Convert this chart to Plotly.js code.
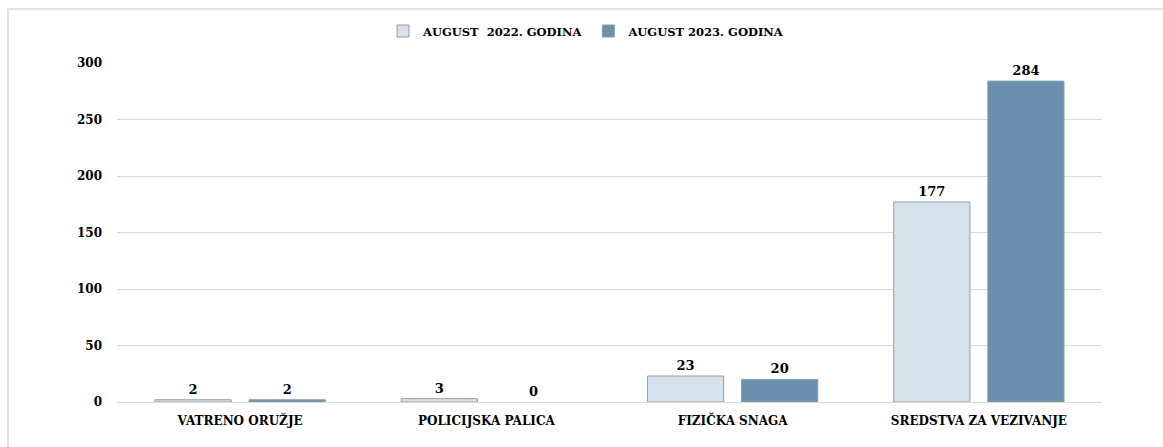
<!DOCTYPE html>
<html>
<head>
<meta charset="utf-8">
<script src="https://cdn.plot.ly/plotly-3.0.1.min.js"></script>
<style>
html,body{margin:0;padding:0;background:#fff;}
#chart{width:1163px;height:447px;}
</style>
</head>
<body>
<div id="chart"></div>
<script>
const categories = ["VATRENO ORUŽJE", "POLICIJSKA PALICA", "FIZIČKA SNAGA", "SREDSTVA ZA VEZIVANJE"];
const series2022Name = "AUGUST  2022. GODINA";
const series2023Name = "AUGUST 2023. GODINA";
const values2022 = [2, 3, 23, 177];
const values2023 = [2, 0, 20, 284];
const yTicks = [0, 50, 100, 150, 200, 250, 300];

const fontFam = "'DejaVu Serif', 'Liberation Serif', serif";

const traces = [
  {
    type: 'bar', name: series2022Name, x: categories, y: values2022,
    text: values2022.map(String), textposition: 'outside', cliponaxis: false,
    textfont: {family: fontFam, size: 13, color: '#000', weight: 'bold'},
    marker: {color: '#D5E1EB', line: {color: '#9C9C9C', width: values2022.map(v => v > 0 ? 1 : 0)}}
  },
  {
    type: 'bar', name: series2023Name, x: categories, y: values2023,
    text: values2023.map(String), textposition: 'outside', cliponaxis: false,
    textfont: {family: fontFam, size: 13, color: '#000', weight: 'bold'},
    marker: {color: '#6B8FAD', line: {color: '#86A3A6', width: values2023.map(v => v > 0 ? 1 : 0)}}
  }
];

const layout = {
  width: 1163, height: 447,
  margin: {l: 117, r: 61, t: 63, b: 45, autoexpand: false},
  paper_bgcolor: '#fff', plot_bgcolor: '#fff',
  font: {family: fontFam, size: 12, color: '#000', weight: 'bold'},
  barmode: 'group', bargap: 0.236, bargroupgap: 0.19,
  showlegend: true,
  legend: {orientation: 'h', xref: 'container', yref: 'container',
           x: 383/1163, xanchor: 'left', y: 1 - 31/447, yanchor: 'middle',
           bgcolor: 'rgba(0,0,0,0)', borderwidth: 0,
           font: {family: fontFam, size: 11.5, color: '#000', weight: 'bold'},
           itemwidth: 30, tracegroupgap: 0},
  xaxis: {type: 'category', showgrid: false, showline: false, zeroline: false, ticks: '',
          ticklabelstandoff: 10,
          tickfont: {family: fontFam, size: 12, color: '#000', weight: 'bold'}},
  yaxis: {range: [0, 300], tickvals: yTicks, ticktext: yTicks.map(String),
          showgrid: true, gridcolor: '#D9D9D9', gridwidth: 1, zeroline: true, zerolinecolor: '#D9D9D9',
          showline: false, ticks: '', ticklabelstandoff: 14,
          tickfont: {family: fontFam, size: 12, color: '#000', weight: 'bold'}},
  shapes: [
    {type: 'rect', xref: 'paper', yref: 'paper', layer: 'below',
     x0: -109/985, x1: 1.2, y0: -0.3, y1: 1 + 54/339,
     line: {color: '#D9D9D9', width: 1.5}, fillcolor: 'rgba(0,0,0,0)'}
  ]
};

Plotly.newPlot('chart', traces, layout, {displayModeBar: false, staticPlot: true});
</script>
</body>
</html>
